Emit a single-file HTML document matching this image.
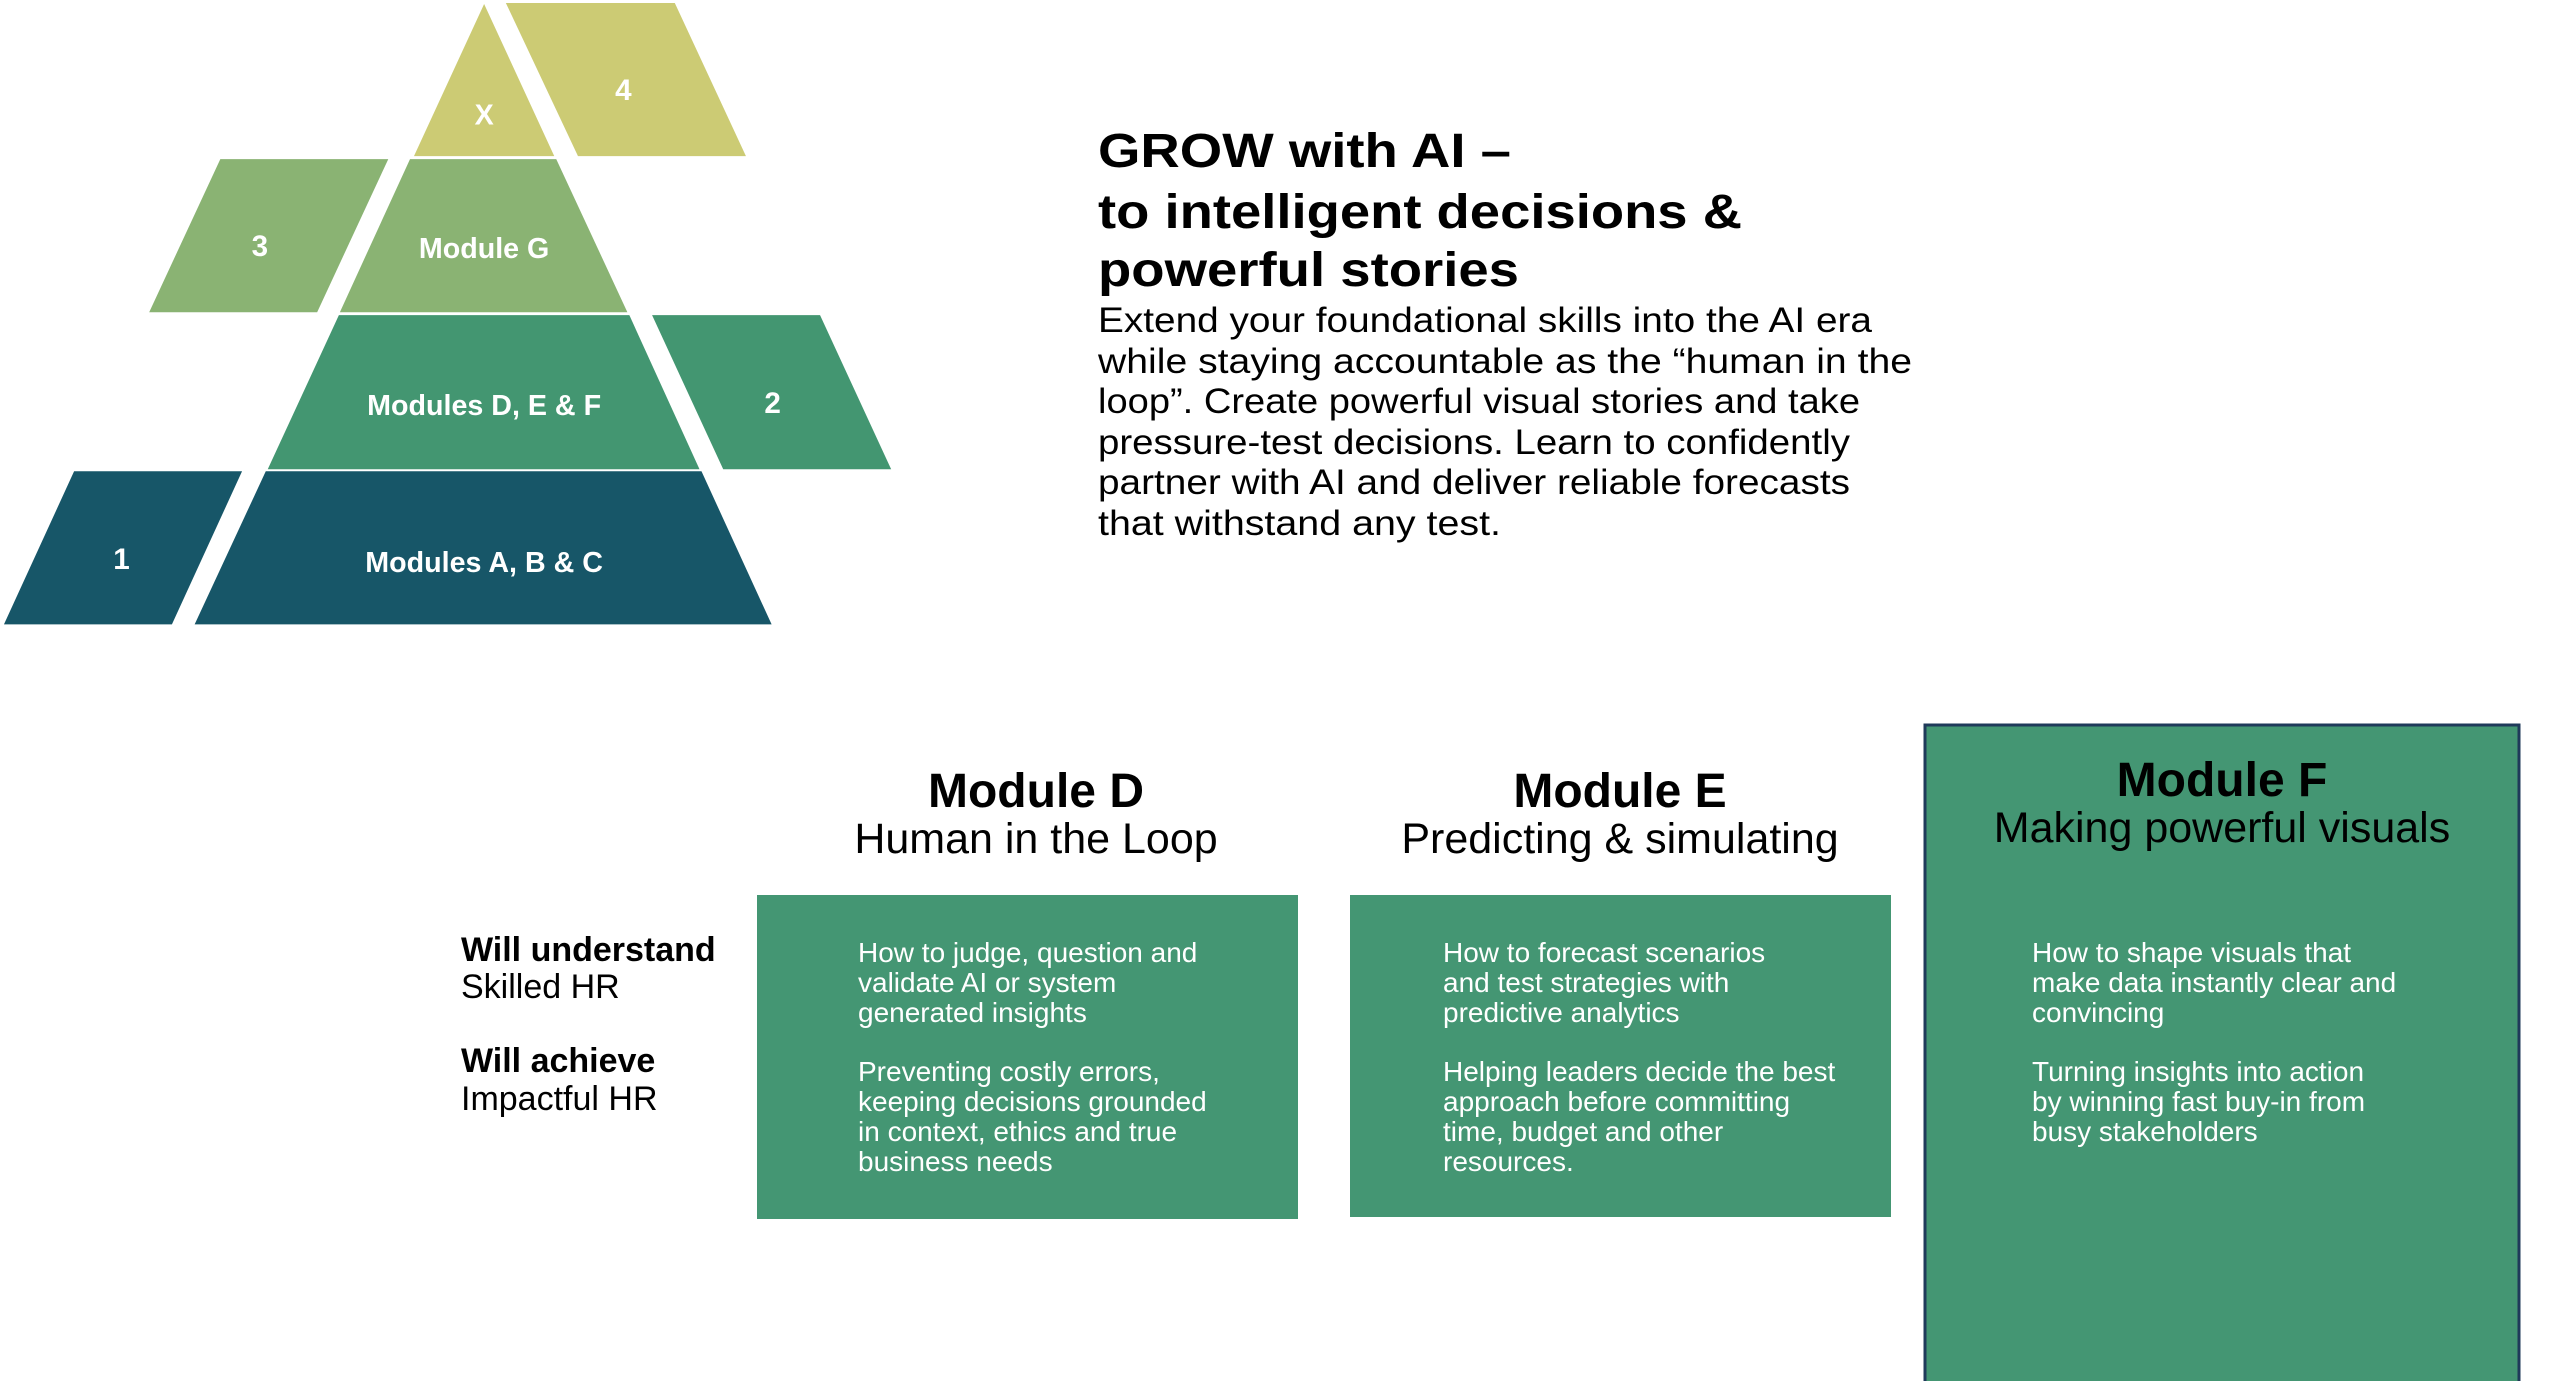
<!DOCTYPE html>
<html><head><meta charset="utf-8"><style>
html,body{margin:0;padding:0;background:#fff;}
svg{display:block;}
text{font-family:"Liberation Sans",sans-serif;}
</style></head><body>
<svg width="2560" height="1381" viewBox="0 0 2560 1381" xmlns="http://www.w3.org/2000/svg">
<rect width="2560" height="1381" fill="#fff"/>
<!-- pyramid -->
<g transform="scale(0.988)">
<polygon points="490,4 561,158 419,158" fill="#cccb74"/>
<polygon points="512,3 683,3 755,158 585,158" fill="#cccb74"/>
<polygon points="415,161 563,161 635,316 344,316" fill="#8ab373"/>
<polygon points="223,161 393,161 321,316 151,316" fill="#8ab373"/>
<polygon points="343,319 637,319 708,475 271,475" fill="#439671"/>
<polygon points="660,319 830,319 902,475 732,475" fill="#439671"/>
<polygon points="269,477 710,477 781,632 197,632" fill="#175668"/>
<polygon points="75,477 245,477 174,632 4,632" fill="#175668"/>
<g fill="#fff" font-weight="bold" text-anchor="middle">
<text x="490" y="126" font-size="29">X</text>
<text x="631" y="101" font-size="30">4</text>
<text x="263" y="259" font-size="30">3</text>
<text x="490" y="261" font-size="29">Module G</text>
<text x="490" y="420" font-size="29">Modules D, E &amp; F</text>
<text x="782" y="418" font-size="30">2</text>
<text x="490" y="579" font-size="29">Modules A, B &amp; C</text>
<text x="123" y="576" font-size="30">1</text>
</g>
</g>
<!-- heading -->
<g fill="#000">
<text x="1098" y="167" font-size="48" font-weight="bold" textLength="413" lengthAdjust="spacingAndGlyphs">GROW with AI –</text>
<text x="1098" y="228" font-size="48" font-weight="bold" textLength="644" lengthAdjust="spacingAndGlyphs">to intelligent decisions &amp;</text>
<text x="1098" y="286" font-size="48" font-weight="bold" textLength="421" lengthAdjust="spacingAndGlyphs">powerful stories</text>
<g font-size="35">
<text x="1098" y="332" textLength="774" lengthAdjust="spacingAndGlyphs">Extend your foundational skills into the AI era</text>
<text x="1098" y="373" textLength="814" lengthAdjust="spacingAndGlyphs">while staying accountable as the “human in the</text>
<text x="1098" y="413" textLength="762" lengthAdjust="spacingAndGlyphs">loop”. Create powerful visual stories and take</text>
<text x="1098" y="454" textLength="752" lengthAdjust="spacingAndGlyphs">pressure-test decisions. Learn to confidently</text>
<text x="1098" y="494" textLength="752" lengthAdjust="spacingAndGlyphs">partner with AI and deliver reliable forecasts</text>
<text x="1098" y="535" textLength="403" lengthAdjust="spacingAndGlyphs">that withstand any test.</text>
</g>
</g>
<!-- left labels -->
<g font-size="34" fill="#000">
<text x="461" y="961" font-weight="bold">Will understand</text>
<text x="461" y="998">Skilled HR</text>
<text x="461" y="1072" font-weight="bold">Will achieve</text>
<text x="461" y="1110">Impactful HR</text>
</g>
<!-- Module D -->
<text x="1036" y="807" font-size="48" font-weight="bold" text-anchor="middle">Module D</text>
<text x="1036" y="853" font-size="43" text-anchor="middle">Human in the Loop</text>
<rect x="757" y="895" width="541" height="324" fill="#449673"/>
<g fill="#fff" font-size="28">
<text x="858" y="962">How to judge, question and</text>
<text x="858" y="992">validate AI or system</text>
<text x="858" y="1022">generated insights</text>
<text x="858" y="1081">Preventing costly errors,</text>
<text x="858" y="1111">keeping decisions grounded</text>
<text x="858" y="1141">in context, ethics and true</text>
<text x="858" y="1171">business needs</text>
</g>
<!-- Module E -->
<text x="1620" y="807" font-size="48" font-weight="bold" text-anchor="middle">Module E</text>
<text x="1620" y="853" font-size="43" text-anchor="middle">Predicting &amp; simulating</text>
<rect x="1350" y="895" width="541" height="322" fill="#449673"/>
<g fill="#fff" font-size="28">
<text x="1443" y="962">How to forecast scenarios</text>
<text x="1443" y="992">and test strategies with</text>
<text x="1443" y="1022">predictive analytics</text>
<text x="1443" y="1081">Helping leaders decide  the best</text>
<text x="1443" y="1111">approach before committing</text>
<text x="1443" y="1141">time, budget and other</text>
<text x="1443" y="1171">resources.</text>
</g>
<!-- Module F -->
<rect x="1925" y="725" width="594" height="660" fill="#449673" stroke="#1f3a5a" stroke-width="3"/>
<text x="2222" y="796" font-size="48" font-weight="bold" text-anchor="middle">Module F</text>
<text x="2222" y="842" font-size="43" text-anchor="middle">Making powerful visuals</text>
<g fill="#fff" font-size="28">
<text x="2032" y="962">How to shape visuals that</text>
<text x="2032" y="992">make data instantly clear and</text>
<text x="2032" y="1022">convincing</text>
<text x="2032" y="1081">Turning insights into action</text>
<text x="2032" y="1111">by winning fast buy-in from</text>
<text x="2032" y="1141">busy stakeholders</text>
</g>
</svg>
</body></html>
